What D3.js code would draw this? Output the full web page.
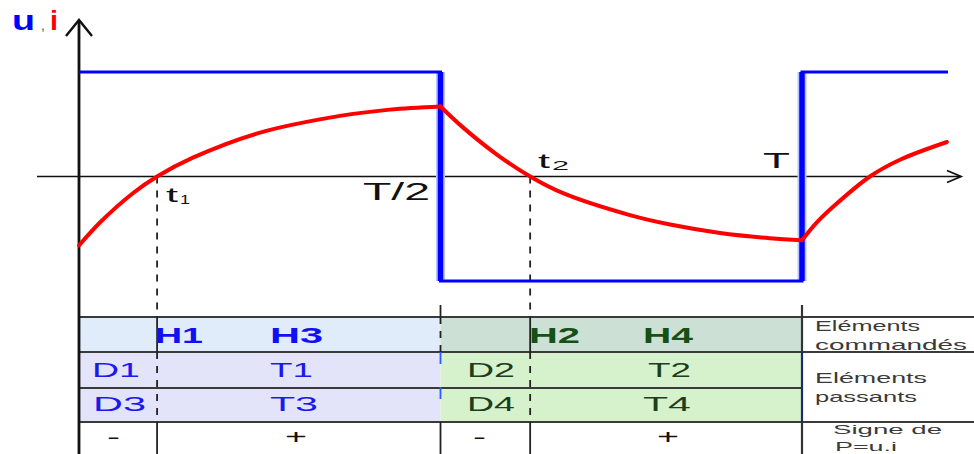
<!DOCTYPE html>
<html>
<head>
<meta charset="utf-8">
<script src="https://cdn.jsdelivr.net/npm/d3@7"></script>
<style>
  body { margin: 0; background: #fff; }
  svg { display: block; font-family: "Liberation Sans", Arial, sans-serif; }
</style>
</head>
<body>
<div id="chart"></div>
<script>
// time in units of T/2 (so T = 2), u and i normalised to E
const uTime = [0, 1, 1, 2, 2, 2.404];
const uValue = [1, 1, -1, -1, 1, 1];

// current, one array per smooth piece
const iTimeA = [0, 0.058, 0.149, 0.216, 0.315, 0.501, 0.722, 0.860, 1.0];
const iValueA = [-0.66, -0.44, -0.16, 0, 0.18, 0.42, 0.58, 0.64, 0.67];
const iTimeB = [1.0, 1.062, 1.156, 1.248, 1.339, 1.524, 1.635, 1.773, 1.911, 2.0];
const iValueB = [0.67, 0.47, 0.21, 0, -0.16, -0.37, -0.46, -0.54, -0.59, -0.61];
const iTimeC = [2.0, 2.041, 2.086, 2.188, 2.271, 2.401];
const iValueC = [-0.61, -0.44, -0.29, 0, 0.16, 0.33];

const markTimes = [0.216, 1, 1.248, 2];   // t1, T/2, t2, T

const hLabels = ["H1", "H3", "H2", "H4"];
const row1Labels = ["D1", "T1", "D2", "T2"];
const row2Labels = ["D3", "T3", "D4", "T4"];
const signLabels = ["-", "+", "-", "+"];
const sideLabels = [["Eléments", "commandés"], ["Eléments", "passants"], ["Signe de", "P=u.i"]];

const width = 974, height = 454;
const svg = d3.select("#chart").append("svg")
    .attr("width", width)
    .attr("height", height);

const x = d3.scaleLinear().domain([0, 2]).range([79, 802]);
const y = d3.scaleLinear().domain([-1, 1]).range([281, 72]);

// text helper: stretched text to a given width (the picture is squeezed horizontally)
function label(txt, x0, y0, opt) {
    const t = svg.append("text")
        .attr("x", x0)
        .attr("y", y0)
        .attr("font-size", opt.size)
        .attr("font-weight", opt.bold ? "bold" : "normal")
        .attr("fill", opt.fill || "#000")
        .text(txt);
    if (opt.w) t.attr("textLength", opt.w).attr("lengthAdjust", "spacingAndGlyphs");
    return t;
}

// ---- table backgrounds
const rowTop = 317, rowH = 352, rowD = 388, rowS = 422;
const colA = x(0), colB = x(1), colC = x(2);

svg.append("rect").attr("x", colA).attr("y", rowTop).attr("width", colB - colA).attr("height", rowH - rowTop).attr("fill", "#e1ecfb");
svg.append("rect").attr("x", colA).attr("y", rowH).attr("width", colB - colA).attr("height", rowS - rowH).attr("fill", "#e3e3fa");
svg.append("rect").attr("x", colB).attr("y", rowTop).attr("width", colC - colB).attr("height", rowH - rowTop).attr("fill", "#cde0d6");
svg.append("rect").attr("x", colB).attr("y", rowH).attr("width", colC - colB).attr("height", rowS - rowH).attr("fill", "#d6f2cc");

// horizontal table lines
const hLines = [[rowTop, width], [rowH, width], [rowD, colC], [rowS, width]];
svg.append("g").selectAll("line")
    .data(hLines)
    .enter()
    .append("line")
    .attr("x1", colA).attr("x2", d => d[1])
    .attr("y1", d => d[0]).attr("y2", d => d[0])
    .attr("stroke", "#3a3a3a")
    .attr("stroke-width", 1.8);

// vertical guides at t1, T/2, t2, T
function vline(x0, y1, y2, color, dash, w) {
    svg.append("line")
        .attr("x1", x0).attr("x2", x0)
        .attr("y1", y1).attr("y2", y2)
        .attr("stroke", color)
        .attr("stroke-width", w || 1.8)
        .attr("stroke-dasharray", dash || null);
}
const dash = "7,7";
[markTimes[0], markTimes[2]].forEach(t => {
    const xx = x(t);
    vline(xx, y(0), rowTop, "#222", dash);
    vline(xx, rowTop, rowH, "#222");
    vline(xx, rowH, rowS, "#222", dash);
    vline(xx, rowS, height, "#222");
});
vline(colB, 305, rowTop, "#222");
vline(colB, rowTop, rowH, "#222", dash);
vline(colB, rowH, rowS, "#2a5cff", "12,23");
vline(colB, rowS, height, "#222");
vline(colC, 305, rowH, "#333", null, 2.2);
vline(colC, rowH, rowS, "#1a2a6a", null, 2.2);
vline(colC, rowS, height, "#333", null, 2.2);

// ---- table texts
const blueTxt = "#1010f0", greenTxt = "#155015", greenDk = "#1c3e1c";
const hPos = [[155, 48], [270, 53], [529, 51], [643, 50]];
hLabels.forEach((d, k) => label(d, hPos[k][0], 343, { size: 22, bold: true, fill: k < 2 ? blueTxt : greenTxt, w: hPos[k][1] }));
const r1Pos = [[92, 48], [270, 43], [467, 48], [648, 43]];
row1Labels.forEach((d, k) => label(d, r1Pos[k][0], 377, { size: 20, fill: k < 2 ? "#1a1aee" : greenDk, w: r1Pos[k][1] }));
const r2Pos = [[93, 53], [270, 48], [467, 48], [643, 48]];
row2Labels.forEach((d, k) => label(d, r2Pos[k][0], 411, { size: 20, fill: k < 2 ? "#1a1aee" : greenDk, w: r2Pos[k][1] }));
const sPos = [[107, 13], [285, 22], [473, 13], [657, 22]];
signLabels.forEach((d, k) => label(d, sPos[k][0], 444, { size: 20, fill: "#111", w: sPos[k][1] }));

const sideX = [[815, 815], [815, 815], [833, 835]];
const sideY = [[331, 350], [383, 402], [434, 451]];
const sideW = [[105, 152], [112, 102], [109, 62]];
sideLabels.forEach((pair, k) => pair.forEach((s, j) =>
    label(s, sideX[k][j], sideY[k][j], { size: k === 2 ? 13.5 : 14.5, fill: "#3a3a3a", w: sideW[k][j] })));

// ---- axes
const axisG = svg.append("g").attr("stroke", "#111").attr("fill", "none");
axisG.append("line").attr("x1", 37).attr("x2", 961).attr("y1", y(0)).attr("y2", y(0)).attr("stroke-width", 1.6);
axisG.append("path").attr("d", `M947,${y(0) - 6}L961,${y(0)}L947,${y(0) + 6}`).attr("stroke-width", 1.8);
axisG.append("line").attr("x1", x(0)).attr("x2", x(0)).attr("y1", 21).attr("y2", height).attr("stroke-width", 2.8);
axisG.append("path").attr("d", `M66,36L${x(0)},20L92,36`).attr("stroke-width", 2.4);

// ---- u(t) square wave
const uPts = uTime.map((t, k) => [t, uValue[k]]);
const uLine = d3.line().x(d => x(d[0])).y(d => y(d[1]));
// switching edges drawn thicker, with a soft halo
const edges = uPts.filter((d, k) => k > 0 && uPts[k - 1][0] === d[0]);
svg.append("g").selectAll("line")
    .data(edges)
    .enter()
    .append("line")
    .attr("x1", d => x(d[0])).attr("x2", d => x(d[0]))
    .attr("y1", y(1)).attr("y2", y(-1))
    .attr("stroke", "#b8c4ff")
    .attr("stroke-width", 9);
svg.append("path")
    .datum(uPts)
    .attr("d", uLine)
    .attr("fill", "none")
    .attr("stroke", "#0000ff")
    .attr("stroke-width", 3);
svg.append("g").selectAll("line")
    .data(edges)
    .enter()
    .append("line")
    .attr("x1", d => x(d[0])).attr("x2", d => x(d[0]))
    .attr("y1", y(1)).attr("y2", y(-1))
    .attr("stroke", "#0000ff")
    .attr("stroke-width", 5.5);

// ---- i(t)
const iLine = d3.line().x(d => x(d[0])).y(d => y(d[1])).curve(d3.curveCatmullRom.alpha(0.5));
[[iTimeA, iValueA], [iTimeB, iValueB], [iTimeC, iValueC]].forEach(([ts, vs]) => {
    svg.append("path")
        .datum(ts.map((t, k) => [t, vs[k]]))
        .attr("d", iLine)
        .attr("fill", "none")
        .attr("stroke", "#ff0000")
        .attr("stroke-width", 4)
        .attr("stroke-linejoin", "round")
        .attr("stroke-linecap", "round");
});

// ---- axis labels
label("u", 12, 30, { size: 28, bold: true, fill: "#0000ff", w: 23 });
label(",", 41, 30, { size: 14, fill: "#555" });
label("i", 50, 30, { size: 28, bold: true, fill: "#ff0000", w: 8 });

label("t", 166, 202, { size: 21, fill: "#111", w: 12 });
label("1", 180, 204, { size: 13, fill: "#111", w: 10 });
label("T/2", 363, 200, { size: 23, fill: "#111", w: 67 });
label("t", 538, 168, { size: 21, fill: "#111", w: 12 });
label("2", 552, 170, { size: 13, fill: "#111", w: 17 });
label("T", 763, 168, { size: 22, fill: "#111", w: 27 });
</script>
</body>
</html>
